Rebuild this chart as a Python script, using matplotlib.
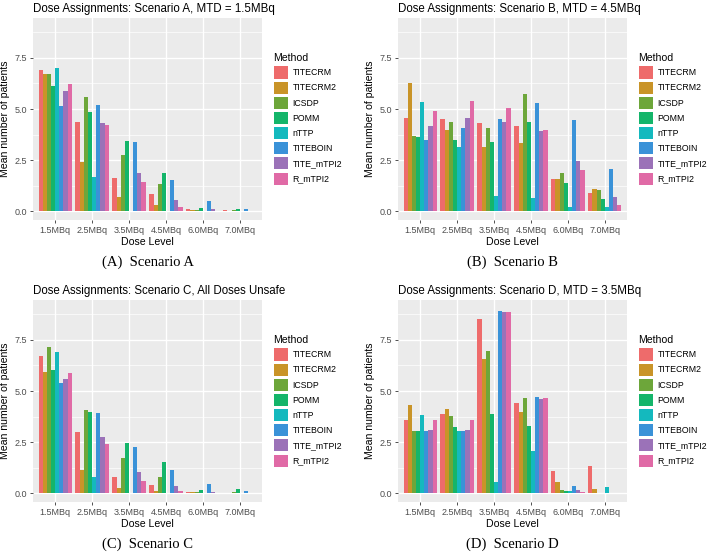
import numpy as np
import matplotlib
matplotlib.use("Agg")
import matplotlib.pyplot as plt

plt.rcParams['font.family'] = ['Liberation Sans', 'DejaVu Sans']

methods = ["TITECRM", "TITECRM2", "ICSDP", "POMM", "nTTP", "TITEBOIN", "TITE_mTPI2", "R_mTPI2"]
doses = ["1.5MBq", "2.5MBq", "3.5MBq", "4.5MBq", "6.0MBq", "7.0MBq"]
colors = ["#EE6B6B", "#C99428", "#6DA63A", "#14B56A", "#14B9BE", "#3A92D8", "#9B72B8", "#E06AA6"]

# rows = methods, columns = dose levels
scen_a = [
    [6.93, 4.37, 1.61, 0.84, 0.08, 0.05],
    [6.73, 2.38, 0.69, 0.31, 0.06, 0.02],
    [6.73, 5.57, 2.73, 1.31, 0.06, 0.03],
    [6.14, 4.86, 3.42, 1.87, 0.14, 0.12],
    [7.01, 1.69, 0.02, 0.00, 0.00, 0.00],
    [5.17, 5.22, 3.38, 1.54, 0.47, 0.08],
    [5.86, 4.29, 1.84, 0.53, 0.08, 0.00],
    [6.24, 4.24, 1.43, 0.18, 0.02, 0.00],
]
scen_b = [
    [4.55, 4.52, 4.30, 4.17, 1.59, 0.89],
    [6.26, 3.99, 3.15, 3.32, 1.56, 1.10],
    [3.69, 4.37, 4.06, 5.75, 1.86, 1.02],
    [3.61, 3.50, 3.37, 4.35, 1.35, 0.57],
    [5.35, 3.14, 0.72, 0.62, 0.20, 0.20],
    [3.50, 4.06, 4.50, 5.29, 4.47, 2.08],
    [4.17, 4.56, 4.37, 3.94, 2.43, 0.70],
    [4.89, 5.39, 5.06, 3.99, 2.00, 0.30],
]
scen_c = [
    [6.71, 2.99, 0.80, 0.40, 0.04, 0.02],
    [5.93, 1.13, 0.23, 0.11, 0.03, 0.00],
    [7.17, 4.06, 1.71, 0.80, 0.06, 0.04],
    [6.03, 3.97, 2.46, 1.54, 0.15, 0.22],
    [6.89, 0.77, 0.00, 0.00, 0.00, 0.00],
    [5.40, 3.92, 2.28, 1.13, 0.45, 0.12],
    [5.57, 2.74, 1.05, 0.33, 0.06, 0.00],
    [5.89, 2.38, 0.61, 0.08, 0.00, 0.00],
]
scen_d = [
    [3.60, 3.87, 8.52, 4.42, 1.10, 1.30],
    [4.30, 4.10, 6.57, 3.97, 0.56, 0.21],
    [3.03, 3.79, 6.95, 4.65, 0.15, 0.00],
    [3.03, 3.23, 3.85, 3.28, 0.08, 0.00],
    [3.82, 3.03, 0.52, 2.05, 0.08, 0.30],
    [3.02, 3.03, 8.92, 4.73, 0.34, 0.02],
    [3.08, 3.08, 8.87, 4.63, 0.13, 0.00],
    [3.57, 3.57, 8.87, 4.66, 0.03, 0.00],
]

titles = ["Dose Assignments: Scenario A, MTD = 1.5MBq",
          "Dose Assignments: Scenario B, MTD = 4.5MBq",
          "Dose Assignments: Scenario C, All Doses Unsafe",
          "Dose Assignments: Scenario D, MTD = 3.5MBq"]
captions = ["(A)  Scenario A", "(B)  Scenario B", "(C)  Scenario C", "(D)  Scenario D"]
data = [scen_a, scen_b, scen_c, scen_d]

W, H = 709, 554
fig = plt.figure(figsize=(W / 100, H / 100), dpi=100)

# panel boxes in pixels: left, top
boxes = [(33, 18), (398, 18), (33, 300), (398, 300)]
pw, ph = 229, 202

x = np.arange(len(doses))
bw = 0.9 / len(methods)

for k in range(4):
    left, top = boxes[k]
    ax = fig.add_axes([left / W, 1 - (top + ph) / H, pw / W, ph / H])
    ax.set_facecolor("#EBEBEB")
    vals = np.array(data[k])
    for i, m in enumerate(methods):
        ax.bar(x - 0.45 + bw * (i + 0.5), vals[i], width=bw, color=colors[i],
               label=m, zorder=3, linewidth=0)
    ax.set_xlim(-0.6, len(doses) - 0.4)
    ax.set_ylim(-0.44, 9.46)
    ax.set_xticks(x)
    ax.set_xticklabels(doses)
    ax.set_yticks([0, 2.5, 5.0, 7.5])
    ax.set_yticklabels(["0.0", "2.5", "5.0", "7.5"])
    ax.set_yticks([1.25, 3.75, 6.25, 8.75], minor=True)
    ax.grid(which="major", color="white", linewidth=1.0, zorder=0)
    ax.grid(which="minor", axis="y", color="white", linewidth=0.5, zorder=0)
    ax.tick_params(which="major", labelsize=6.5, colors="#333333", length=2.5,
                   width=0.6, labelcolor="#4D4D4D", pad=2)
    ax.tick_params(which="minor", length=0)
    for s in ax.spines.values():
        s.set_visible(False)
    ax.set_axisbelow(True)
    ax.set_xlabel("Dose Level", fontsize=7.6, labelpad=1)
    ax.set_ylabel("Mean number of patients", fontsize=7.6, labelpad=3)
    ax.set_title(titles[k], loc="left", fontsize=8.3, pad=4)
    leg = ax.legend(title="Method", loc="center left", bbox_to_anchor=(1.035, 0.5),
                    frameon=False, fontsize=6.3, title_fontsize=7.6,
                    handlelength=1.7, handleheight=1.75, labelspacing=0.35,
                    handletextpad=0.45, borderaxespad=0)
    leg._legend_box.align = "left"
    # caption under each panel
    fig.text((left + pw / 2) / W, 1 - (top + 244) / H, captions[k],
             family="Liberation Serif", fontsize=10.5, ha="center", va="center")

fig.savefig("out.png", dpi=100)
